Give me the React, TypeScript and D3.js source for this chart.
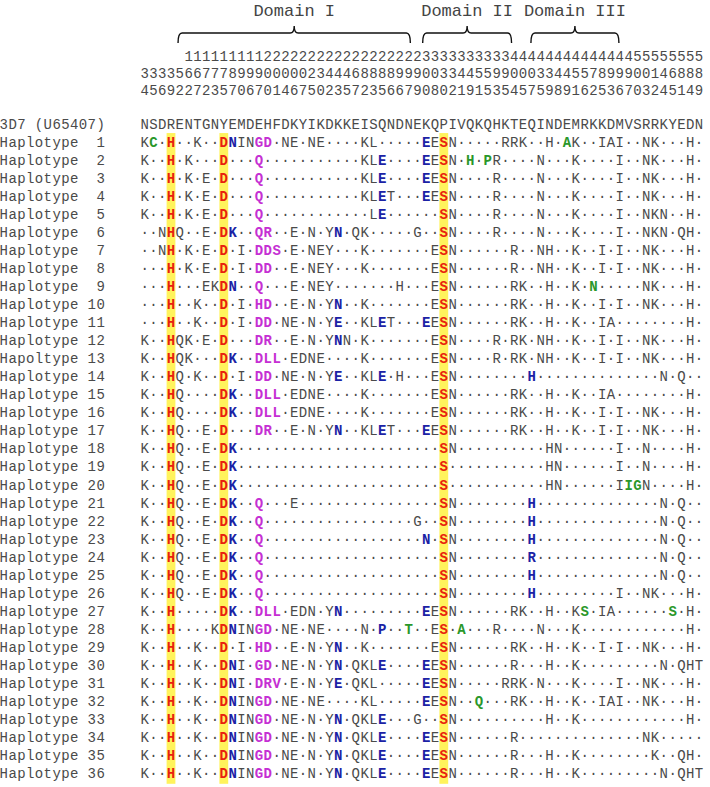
import React from "react";
import * as d3 from "d3";

const width = 710;
const height = 787;

// residue numbers of the 64 polymorphic sites (printed vertically)
const positions = [
  34, 35, 36, 39, 52, 162, 167, 172, 173, 175, 187, 190, 196, 197, 200, 201,
  204, 206, 207, 225, 230, 242, 243, 245, 267, 282, 283, 285, 286, 296, 297, 299,
  300, 308, 330, 332, 341, 349, 351, 355, 393, 395, 404, 405, 407, 435, 439, 448,
  449, 451, 456, 472, 485, 493, 496, 497, 500, 503, 512, 544, 565, 581, 584, 589,
];

const refName = "3D7 (U65407)";
const refSeq = "NSDRENTGNYEMDEHFDKYIKDKKEISQNDNEKQPIVQKQHKTEQINDEMRKKDMVSRRKYEDN";

const hapNames = d3
  .range(1, 37)
  .map((i) => (i === 13 ? "Hapoltype" : "Haplotype") + String(i).padStart(3, " "));

// digits = run of residues identical to 3D7 (dots); * blue, + magenta, ^ green mark the next residue
// "|" splits the two halves of the 64 sites
const hapSeqs = [
  "K^C1H2K2D*NIN+G+D1NE1NE4KL5|*EESN5RRK2H1^AK2IAI2NK3H1",
  "K2H1K3D3+Q11KL*E4|*EESN1^H1^PR4N3K4I2NK3H1",
  "K2H1K1E1D3+Q11KL*E4|*EESN4R4N3K4I2NK3H1",
  "K2H1K1E1D3+Q11KL*ET3|*EESN4R4N3K4I2NK3H1",
  "K2H1K1E1D3+Q12L*E4|2SN4R4N3K4I2NKN2H1",
  "2NHQ2E1D*K2+Q+R2E1N1Y*N1QK5G|2SN4R4N3K4I2NKN1QH1",
  "2NH1K1E1D1I1+D+D+S1E1NEY3K6|1ESN6R2NH2K2I1I2NK3H1",
  "3H1K1E1D1I1+D+D2E1NEY3K6|1ESN6R2NH2K2I1I2NK3H1",
  "3H3EKD*N2+Q3E1NEY7H2|1ESN6RK2H2K1^N5NK3H1",
  "3H2K2D1I1+H+D2E1N1Y*N2K6|1ESN6RK2H2K2I1I2NK3H1",
  "3H2K2D1I1+D+D1NE1N1Y*E2KL*ET3|*EESN6RK2H2K2IA8H1",
  "K2HQK1E1D3+D+R2E1N1Y*NN1K6|1ESN4R1RK1NH2K2I1I2NK3H1",
  "K2HQK3D*K2+D+L+L1EDNE4K6|1ESN4R1RK1NH2K2I1I2NK3H1",
  "K2HQ1K2D1I1+D+D1NE1N1Y*E2KL*E1H2|1ESN8*H14N1Q2",
  "K2HQ4D*K2+D+L+L1EDNE4K6|1ESN6RK2H2K2IA8H1",
  "K2HQ4D*K2+D+L+L1EDNE4K6|1ESN6RK2H2K2I1I2NK3H1",
  "K2HQ2E1D3+D+R2E1N1Y*N2KL*ET3|*EESN6RK2H2K2I1I2NK3H1",
  "K2HQ2E1D*K21|2SN10HN6I2N4H1",
  "K2HQ2E1D*K21|2S11HN6I2N4H1",
  "K2HQ2E1D*K21|2S11HN6I^I^GN4H1",
  "K2HQ2E1D*K2+Q3E14|2SN8*H14N1Q2",
  "K2HQ2E1D*K2+Q17G|2SN8*H14N1Q2",
  "K2HQ2E1D*K2+Q18|*N1SN8*H14N1Q2",
  "K2HQ2E1D*K2+Q18|2SN8*R14N1Q2",
  "K2HQ2E1D*K2+Q18|2SN8*H14N1Q2",
  "K2HQ2E1D*K2+Q18|2SN8*H9I2NK3H1",
  "K2H5D*K2+D+L+L1EDN1Y*N9|*EESN6RK2H2K^S1IA6^S1H1",
  "K2H4KD*NIN+G+D1NE1NE4N1*P2^T1|1ES1^A3R4N3K12H1",
  "K2H2K2D1I1+H+D2E1N1Y*N2K6|1ESN6RK2H2K2I1I2NK3H1",
  "K2H2K2D*NI1+G+D1NE1N1Y*N1QKL*E4|*EESN6R3H2K9N1QHT",
  "K2H2K2D*NI1+D+R+V1E1N1Y*E1QKL5|*EESN5RRK1N3K4I2NK3H1",
  "K2H2K2D*NIN+G+D1NE1NE4KL5|*EESN2^Q3RK2H2K2IAI2NK3H1",
  "K2H2K2D*NIN+G+D1NE1N1Y*N1QKL*E3G|2SN10H2K12H1",
  "K2H2K2D*NIN+G+D1NE1N1Y*N1QKL*E4|*EESN6R14NK5",
  "K2H2K2D*NIN+G+D1NE1N1Y*N1QKL*E4|*EESN6R3H2K8K2QH1",
  "K2H2K2D*NIN+G+D1NE1N1Y*N1QKL*E4|*EESN6R3H2K9N1QHT",
];

// columns shaded yellow (key residues)
const highlightCols = [3, 9, 34];

// domain braces, in column units
const domainNames = ["Domain I", "Domain II", "Domain III"];
const domainSpans = [
  [4.3, 30.7],
  [32.1, 42.2],
  [44.4, 54.4],
];

const colors = {
  n: "#4a4a4a",
  r: "#e8200e",
  b: "#1b22a5",
  m: "#c52fd3",
  g: "#2a972a",
};
const markCls = { "*": "b", "+": "m", "^": "g" };

const mono = "'Courier New', 'Liberation Mono', monospace";
const fs = 14;
const labelCols = 16; // label area width in characters

function parseSeq(s) {
  const out = [];
  let cls = "n";
  let num = "";
  const flush = () => {
    if (num) {
      for (let k = 0; k < +num; k++) out.push({ ch: "\u00b7", cls: "n" });
      num = "";
    }
  };
  for (const ch of s) {
    if (ch >= "0" && ch <= "9") {
      num += ch;
      continue;
    }
    flush();
    if (ch === "|") continue;
    if (markCls[ch]) {
      cls = markCls[ch];
      continue;
    }
    out.push({ ch, cls });
    cls = "n";
  }
  flush();
  return out;
}

const App = () => {
  const nCols = refSeq.length;
  const x = d3.scaleLinear().domain([0, nCols]).range([140.2, 140.2 + nCols * 8.8]);
  const cw = x(1) - x(0);
  // row 0 = reference, rows 1..36 = haplotypes
  const y = d3.scaleLinear().domain([0, 36]).range([124.5, 124.5 + 36 * 18.05]);
  const digitY = d3.scaleLinear().domain([0, 2]).range([57, 91]);

  const rows = hapSeqs.map(parseSeq);
  const digitRows = [0, 1, 2].map((k) =>
    positions.map((p) => String(p).padStart(3, " ")[k])
  );

  const bracket = (a, b) => {
    const x1 = x(a), x2 = x(b), xm = (x1 + x2) / 2;
    const yl = 33, r = 4;
    return `M${x1},43 Q${x1},${yl} ${x1 + r},${yl} L${xm - r},${yl} Q${xm},${yl} ${xm},26 Q${xm},${yl} ${xm + r},${yl} L${x2 - r},${yl} Q${x2},${yl} ${x2},43`;
  };

  const label = (txt, yy, key) =>
    txt.split("").map((ch, i) =>
      ch === " " ? null : (
        <text
          key={`${key}-${i}`}
          x={x(i - labelCols + 0.5)}
          y={yy}
          fontSize={fs}
          fill={colors.n}
          textAnchor="middle"
          dominantBaseline="central"
        >
          {ch}
        </text>
      )
    );

  return (
    <svg
      width={width}
      height={height}
      style={{ position: "absolute", left: 0, top: 0, background: "#fff" }}
      fontFamily={mono}
    >
      <rect width={width} height={height} fill="#fff" />
      {highlightCols.map((c) => (
        <rect
          key={c}
          x={x(c)}
          width={cw}
          y={y(1) - 9.5}
          height={y(36) - y(1) + 19}
          fill="#fff35c"
        />
      ))}
      {domainNames.map((name, i) => {
        const [a, b] = domainSpans[i];
        return (
          <g key={name}>
            <text
              x={(x(a) + x(b)) / 2}
              y={11}
              fontSize={17}
              fill="#444"
              textAnchor="middle"
              dominantBaseline="central"
              style={{ whiteSpace: "pre" }}
            >
              {name}
            </text>
            <path d={bracket(a, b)} fill="none" stroke="#111" strokeWidth={1.4} />
          </g>
        );
      })}
      {digitRows.map((row, k) =>
        row.map((d, c) =>
          d === " " ? null : (
            <text
              key={`d${k}-${c}`}
              x={x(c + 0.5)}
              y={digitY(k)}
              fontSize={fs}
              fill={colors.n}
              textAnchor="middle"
              dominantBaseline="central"
            >
              {d}
            </text>
          )
        )
      )}
      {label(refName, y(0), "refname")}
      {refSeq.split("").map((ch, c) => (
        <text
          key={`ref${c}`}
          x={x(c + 0.5)}
          y={y(0)}
          fontSize={fs}
          fill={colors.n}
          textAnchor="middle"
          dominantBaseline="central"
        >
          {ch}
        </text>
      ))}
      {rows.map((row, r) => (
        <g key={`h${r}`}>
          {label(hapNames[r], y(r + 1), `lab${r}`)}
          {row.map((d, c) => {
            const hl = highlightCols.includes(c) && d.ch !== "\u00b7";
            const cls = hl ? "r" : d.cls;
            return (
              <text
                key={c}
                x={x(c + 0.5)}
                y={y(r + 1)}
                fontSize={fs}
                fill={colors[cls]}
                fontWeight={cls === "n" ? "normal" : "bold"}
                textAnchor="middle"
                dominantBaseline="central"
              >
                {d.ch}
              </text>
            );
          })}
        </g>
      ))}
    </svg>
  );
};

export default App;
